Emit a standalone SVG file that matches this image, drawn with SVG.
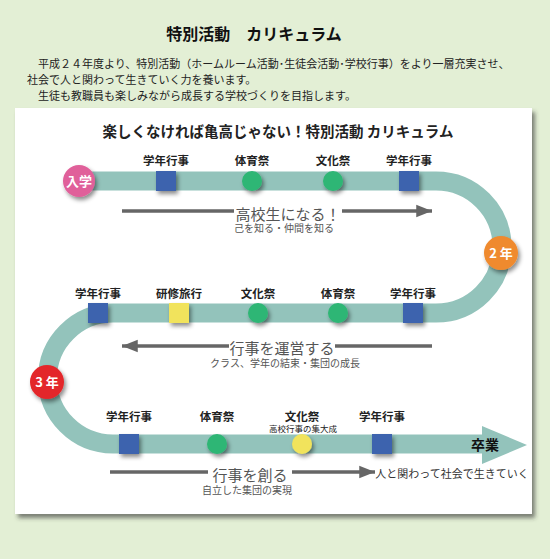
<svg xmlns="http://www.w3.org/2000/svg" width="550" height="559" viewBox="0 0 550 559">
<defs>
<filter id="ps" x="-10%" y="-10%" width="120%" height="120%"><feDropShadow dx="3" dy="4" stdDeviation="2" flood-color="#333" flood-opacity="0.6"/></filter>
<filter id="ms" x="-50%" y="-50%" width="220%" height="220%"><feDropShadow dx="2" dy="3" stdDeviation="2" flood-color="#000" flood-opacity="0.45"/></filter>
<marker id="ah" markerWidth="5" markerHeight="5" refX="4.5" refY="2.5" orient="auto" markerUnits="strokeWidth"><path d="M0,0.7 L4.5,2.5 L0,4.3 z" fill="#666"/></marker>
</defs>
<style>
text{font-family:"Noto Sans CJK JP","Noto Sans",sans-serif;}
.p{font-size:11px;fill:#222;}
.lb{font-size:11.5px;fill:#222;font-weight:bold;text-anchor:middle;}
.at{font-size:15px;fill:#555;text-anchor:middle;}
.st{font-size:10px;fill:#555;}
.ln{stroke:#666;stroke-width:3.5;fill:none;}
.sq{fill:#3c63ae;}
.gc{fill:#2db674;}
.yl{fill:#f1e35b;}
.bt{font-size:13px;fill:#fff;font-weight:bold;text-anchor:middle;}
</style>
<rect width="550" height="559" fill="#e3efd5"/>
<text x="254" y="40" font-size="16" font-weight="bold" fill="#111" text-anchor="middle">特別活動　カリキュラム</text>
<text class="p" x="27" y="68">　平成２４年度より、特別活動（ホームルーム活動･生徒会活動･学校行事）をより一層充実させ、</text>
<text class="p" x="27" y="84">社会で人と関わって生きていく力を養います。</text>
<text class="p" x="27" y="100">　生徒も教職員も楽しみながら成長する学校づくりを目指します。</text>
<rect x="15" y="108" width="517" height="406" fill="#fff" filter="url(#ps)"/>
<text x="278" y="137" font-size="14.5" font-weight="bold" fill="#222" text-anchor="middle">楽しくなければ亀高じゃない！特別活動 カリキュラム</text>
<g id="connectors">
<path d="M80 181 H436 A66 66 0 0 1 436 313 H113 A65.5 65.5 0 0 0 113 444 H483" fill="none" stroke="#93c3bb" stroke-width="19"/>
<polygon points="482,426 527,445 482,464" fill="#93c3bb"/>
<line class="ln" x1="122" y1="211" x2="234" y2="211"/>
<line class="ln" x1="342" y1="211" x2="432" y2="211" marker-end="url(#ah)"/>
<line class="ln" x1="229" y1="346" x2="122" y2="346" marker-end="url(#ah)"/>
<line class="ln" x1="335" y1="346" x2="432" y2="346"/>
<line class="ln" x1="110" y1="472" x2="208" y2="472"/>
<line class="ln" x1="292" y1="472" x2="375" y2="472" marker-end="url(#ah)"/>
</g>
<g id="start"><circle cx="79" cy="181" r="16" fill="#e0609a" filter="url(#ms)"/><text class="bt" x="79" y="186">入学</text></g>
<g id="r1n1"><rect class="sq" x="156" y="171" width="20" height="20" filter="url(#ms)"/><text class="lb" x="166" y="165">学年行事</text></g>
<g id="r1n2"><circle class="gc" cx="252" cy="181" r="10" filter="url(#ms)"/><text class="lb" x="252" y="165">体育祭</text></g>
<g id="r1n3"><circle class="gc" cx="333" cy="181" r="10" filter="url(#ms)"/><text class="lb" x="333" y="165">文化祭</text></g>
<g id="r1n4"><rect class="sq" x="399" y="171" width="20" height="20" filter="url(#ms)"/><text class="lb" x="409" y="165">学年行事</text></g>
<g id="year2"><circle cx="501" cy="253" r="17" fill="#ef8a2e" filter="url(#ms)"/><text class="bt" x="501" y="258">2 年</text></g>
<g id="r2n1"><rect class="sq" x="403" y="303" width="20" height="20" filter="url(#ms)"/><text class="lb" x="413" y="298">学年行事</text></g>
<g id="r2n2"><circle class="gc" cx="338" cy="313" r="10" filter="url(#ms)"/><text class="lb" x="338" y="298">体育祭</text></g>
<g id="r2n3"><circle class="gc" cx="258" cy="313" r="10" filter="url(#ms)"/><text class="lb" x="258" y="298">文化祭</text></g>
<g id="r2n4"><rect class="yl" x="169" y="303" width="20" height="20" filter="url(#ms)"/><text class="lb" x="179" y="298">研修旅行</text></g>
<g id="r2n5"><rect class="sq" x="88" y="303" width="20" height="20" filter="url(#ms)"/><text class="lb" x="98" y="298">学年行事</text></g>
<g id="year3"><circle cx="47" cy="382" r="17" fill="#e3262a" filter="url(#ms)"/><text class="bt" x="47" y="387">3 年</text></g>
<g id="r3n1"><rect class="sq" x="119" y="434" width="20" height="20" filter="url(#ms)"/><text class="lb" x="129" y="421">学年行事</text></g>
<g id="r3n2"><circle class="gc" cx="217" cy="444" r="10" filter="url(#ms)"/><text class="lb" x="217" y="421">体育祭</text></g>
<g id="r3n3"><circle class="yl" cx="302" cy="444" r="10" filter="url(#ms)"/><text class="lb" x="302" y="421">文化祭<tspan x="303" y="432" font-size="8.5" font-weight="normal">高校行事の集大成</tspan></text></g>
<g id="r3n4"><rect class="sq" x="372" y="434" width="20" height="20" filter="url(#ms)"/><text class="lb" x="382" y="421">学年行事</text></g>
<g id="goal"><text x="485" y="450" font-size="14" font-weight="bold" fill="#111" text-anchor="middle">卒業</text></g>
<g id="phase1"><text class="at" x="288" y="220">高校生になる！<tspan class="st" x="284" y="232">己を知る・仲間を知る</tspan></text></g>
<g id="phase2"><text class="at" x="282" y="354">行事を運営する<tspan class="st" x="285" y="367">クラス、学年の結束・集団の成長</tspan></text></g>
<g id="phase3"><text class="at" x="250" y="481">行事を創る<tspan class="st" x="247" y="494">自立した集団の実現</tspan></text><text x="452" y="478" font-size="11" fill="#333" text-anchor="middle">人と関わって社会で生きていく</text></g>
</svg>
